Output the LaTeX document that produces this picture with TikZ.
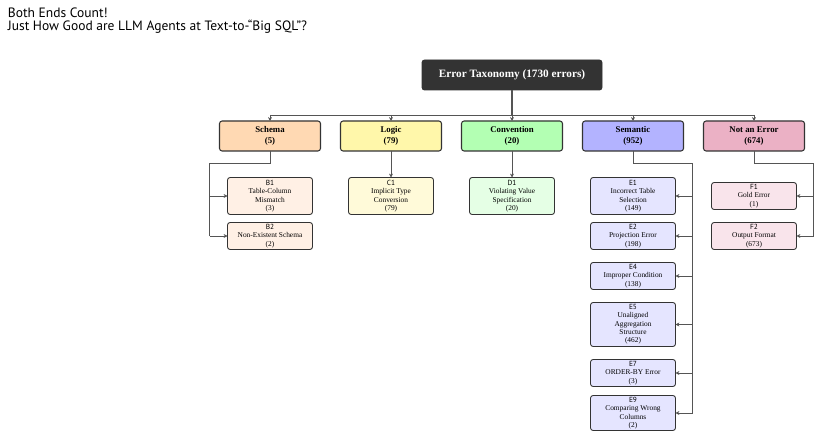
\documentclass[tikz,border=0pt]{standalone}
\usepackage{fontspec}
\setmainfont{Liberation Serif}
\setsansfont{PT Sans}
\usetikzlibrary{arrows.meta,positioning,calc}
\definecolor{ink}{HTML}{333333}
\definecolor{wire}{HTML}{555555}
\definecolor{rootfill}{HTML}{333333}
\definecolor{schemac}{HTML}{FFD9B3}
\definecolor{schemasoft}{HTML}{FFF0E5}
\definecolor{logicc}{HTML}{FFF7AA}
\definecolor{logicsoft}{HTML}{FFFAD9}
\definecolor{convc}{HTML}{B3FFB3}
\definecolor{convsoft}{HTML}{E5FFE5}
\definecolor{semc}{HTML}{B3B3FF}
\definecolor{semsoft}{HTML}{E5E5FF}
\definecolor{naec}{HTML}{EBB1C5}
\definecolor{naesoft}{HTML}{F9E4EB}
\begin{document}
\begin{tikzpicture}[
  >={Stealth[length=2.2pt,width=2.2pt]},
  hdr/.style={font=\sffamily\fontsize{7.7}{7.4}\selectfont, align=left, inner sep=0pt},
  rootbox/.style={draw=ink, line width=0.5pt, rounded corners=1.5pt, fill=rootfill, text=white, align=center, minimum width=3.6cm, minimum height=0.6cm, outer sep=0pt, font=\fontsize{6.4}{7}\selectfont\bfseries},
  cat/.style={draw=ink, line width=0.6pt, rounded corners=1.5pt, align=center, minimum width=2.02cm, minimum height=0.6cm, inner sep=1pt, outer sep=0pt, font=\fontsize{5}{6}\selectfont\bfseries},
  sub/.style={draw=ink, line width=0.5pt, rounded corners=1.5pt, align=center, minimum width=1.7cm, inner sep=0.3pt, outer sep=0pt, font=\fontsize{4.2}{4.75}\selectfont},
  ln/.style={draw=wire, line width=0.5pt},
  arr/.style={->, draw=wire, line width=0.5pt},
  trunk/.style={draw=wire, line width=1pt}]
\useasboundingbox (0,0) rectangle (16.42,-8.78);
\node[hdr, anchor=north west] (title) at (0.15,-0.16) {Both Ends Count!\\Just How Good are LLM Agents at Text-to-“Big SQL”?};
% root and categories
\node[rootbox] (root) at (10.24,-1.5) {Error Taxonomy (1730 errors)};
\node[cat, fill=convc, below=0.62cm of root] (conv) {Convention\\(20)};
\node[cat, fill=logicc, left=0.4cm of conv] (logic) {Logic\\(79)};
\node[cat, fill=schemac, left=0.4cm of logic] (schema) {Schema\\(5)};
\node[cat, fill=semc, right=0.4cm of conv] (sem) {Semantic\\(952)};
\node[cat, fill=naec, right=0.4cm of sem] (nae) {Not an Error\\(674)};
\coordinate (bar) at ($(root.south)+(0,-0.5)$);
\draw[trunk] (root.south) -- (bar);
\draw[ln] (bar -| schema.north) -- (bar -| nae.north);
\foreach \c in {schema,logic,conv,sem,nae}
  \draw[arr] (bar -| \c.north) -- (\c.north);
% subcategories
\node[sub, fill=schemasoft, minimum height=0.74cm, below=0.53cm of schema] (b1) {\textsf{B1}\\Table-Column\\Mismatch\\(3)};
\node[sub, fill=schemasoft, minimum height=0.54cm, below=0.16cm of b1] (b2) {\textsf{B2}\\Non-Existent Schema\\(2)};
\node[sub, fill=logicsoft, minimum height=0.74cm, below=0.53cm of logic] (c1) {\textsf{C1}\\Implicit Type\\Conversion\\(79)};
\node[sub, fill=convsoft, minimum height=0.74cm, below=0.53cm of conv] (d1) {\textsf{D1}\\Violating Value\\Specification\\(20)};
\node[sub, fill=semsoft, minimum height=0.74cm, below=0.53cm of sem] (e1) {\textsf{E1}\\Incorrect Table\\Selection\\(149)};
\node[sub, fill=semsoft, minimum height=0.54cm, below=0.16cm of e1] (e2) {\textsf{E2}\\Projection Error\\(198)};
\node[sub, fill=semsoft, minimum height=0.54cm, below=0.26cm of e2] (e4) {\textsf{E4}\\Improper Condition\\(138)};
\node[sub, fill=semsoft, minimum height=0.88cm, below=0.26cm of e4] (e5) {\textsf{E5}\\Unaligned\\Aggregation\\Structure\\(462)};
\node[sub, fill=semsoft, minimum height=0.54cm, below=0.26cm of e5] (e7) {\textsf{E7}\\ORDER-BY Error\\(3)};
\node[sub, fill=semsoft, minimum height=0.70cm, below=0.18cm of e7] (e9) {\textsf{E9}\\Comparing Wrong\\Columns\\(2)};
\node[sub, fill=naesoft, minimum height=0.54cm, below=0.63cm of nae] (f1) {\textsf{F1}\\Gold Error\\(1)};
\node[sub, fill=naesoft, minimum height=0.54cm, below=0.26cm of f1] (f2) {\textsf{F2}\\Output Format\\(673)};
% links
\draw[arr] (logic.south) -- (c1.north);
\draw[arr] (conv.south) -- (d1.north);
\coordinate (sk) at ($(schema.south)+(0,-0.24)$);
\coordinate (sx) at ($(b1.west)+(-0.36,0)$);
\draw[ln] (schema.south) -- (sk) -- (sk -| sx) -- (sx |- b2.west);
\draw[arr] (sx) -- (b1.west);
\draw[arr] (sx |- b2.west) -- (b2.west);
\coordinate (ek) at ($(sem.south)+(0,-0.24)$);
\coordinate (ex) at ($(e1.east)+(0.34,0)$);
\draw[ln] (sem.south) -- (ek) -- (ek -| ex) -- (ex |- e9.east);
\foreach \e in {e1,e2,e4,e5,e7,e9}
  \draw[arr] (ex |- \e.east) -- (\e.east);
\coordinate (fk) at ($(nae.south)+(0,-0.24)$);
\coordinate (fx) at ($(f1.east)+(0.34,0)$);
\draw[ln] (nae.south) -- (fk) -- (fk -| fx) -- (fx |- f2.east);
\foreach \f in {f1,f2}
  \draw[arr] (fx |- \f.east) -- (\f.east);
\end{tikzpicture}
\end{document}
